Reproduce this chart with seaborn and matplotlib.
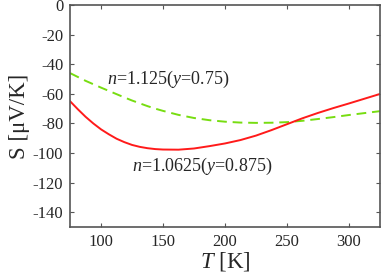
import numpy as np
import pandas as pd
import matplotlib
matplotlib.use("Agg")
import matplotlib.pyplot as plt
import seaborn as sns

# ── Data ────────────────────────────────────────────────────
T_K = [75, 81.25, 87.5, 93.75, 100, 106.25, 112.5, 118.75, 125, 131.25, 137.5,
       143.75, 150, 162.5, 175, 187.5, 200, 212.5, 225, 237.5, 250,
       262.5, 275, 287.5, 300, 312.5, 325]
S_n10625 = [-65, -70.4, -75.5, -80, -84, -87.3, -90.3, -92.6, -94.5, -95.8, -96.7,
            -97.3, -97.6, -97.7, -96.9, -95.3, -93.5, -91.2, -88.2, -84.5, -80.5,
            -76.5, -72.9, -69.6, -66.5, -63.3, -60.1]
S_n1125 = [-46, -48.6, -51.2, -53.5, -55.8, -58, -60.2, -62.4, -64.5, -66.4, -68.3,
           -70, -71.5, -74.2, -76.3, -77.8, -78.8, -79.4, -79.6, -79.5, -79.1,
           -78.2, -77, -75.7, -74.3, -73, -71.7]
x_ticks = [100, 150, 200, 250, 300]
y_ticks = [0, -20, -40, -60, -80, -100, -120, -140]

df = pd.DataFrame({"T": T_K, "red": S_n10625, "green": S_n1125})

sns.set_style("ticks")
plt.rcParams["font.family"] = ["Liberation Serif", "DejaVu Serif"]
plt.rcParams["mathtext.fontset"] = "custom"
plt.rcParams["mathtext.rm"] = "Liberation Serif"
plt.rcParams["mathtext.it"] = "Liberation Serif:italic"
plt.rcParams["axes.unicode_minus"] = False

fig = plt.figure(figsize=(3.81, 2.78), dpi=100)
ax = fig.add_axes([0.184, 0.183, 0.813, 0.799])

sns.lineplot(data=df, x="T", y="green", ax=ax, color="#77dd11",
             linestyle=(0, (5, 3)), linewidth=1.4)
sns.lineplot(data=df, x="T", y="red", ax=ax, color="#ff1a1a", linewidth=1.4)

ax.set_xlim(75, 325)
ax.set_ylim(-150, 0)
ax.set_xticks(x_ticks)
ax.set_yticks(y_ticks)
ax.tick_params(direction="in", length=3, width=0.8, labelsize=12,
               top=True, right=True, color="#555555", pad=5)
for sp in ax.spines.values():
    sp.set_color("#555555")
    sp.set_linewidth(1.2)

ax.set_xlabel(r"$T$ [K]", fontsize=16.5, labelpad=0)
ax.set_ylabel("S [μV/K]", fontsize=16.5, labelpad=2)

ax.text(104.5, -50.5, r"$n$=1.125($y$=0.75)", fontsize=13, va="center")
ax.text(125, -108.8, r"$n$=1.0625($y$=0.875)", fontsize=13, va="center")

plt.savefig("out.png", dpi=100)
plt.close()
